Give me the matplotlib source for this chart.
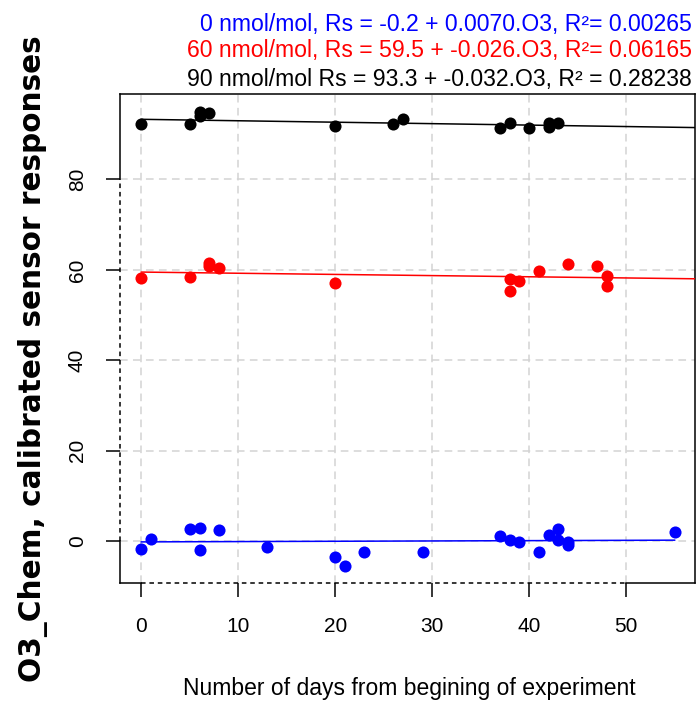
import matplotlib
matplotlib.use("Agg")
import matplotlib.pyplot as plt
import matplotlib.transforms as mtransforms

# -- Calibrated sensor responses per O3 level --------------------------------
days_0 = [0, 1, 5, 6, 6, 8, 13, 20, 21, 23, 29, 37, 38, 39, 41, 42, 43, 43, 44, 44, 55]
resp_0 = [-1.8, 0.4, 2.6, 2.9, -2.1, 2.4, -1.4, -3.5, -5.5, -2.4, -2.4,
          1.1, 0.2, -0.2, -2.4, 1.3, 2.7, 0.2, -0.2, -0.9, 1.9]

days_60 = [0, 5, 7, 7, 8, 20, 38, 38, 39, 41, 44, 47, 48, 48]
resp_60 = [58.1, 58.5, 61.4, 60.8, 60.5, 57.1, 57.9, 55.4, 57.5, 59.8, 61.3, 60.8, 58.6, 56.4]

days_90 = [0, 5, 6, 6, 7, 20, 26, 27, 37, 38, 40, 42, 42, 43]
resp_90 = [92.2, 92.2, 95.0, 94.0, 94.6, 91.9, 92.2, 93.3, 91.4, 92.5, 91.4, 91.6, 92.4, 92.5]

# linear fits Rs = a + b * day
fit_a = [-0.2, 59.5, 93.3]
fit_b = [0.0070, -0.026, -0.032]
fit_r2 = ["0.00265", "0.06165", "0.28238"]

xticks = [0, 10, 20, 30, 40, 50]
yticks = [0, 20, 40, 60, 80]
xlim = (-2.2, 57.1)
ylim = (-9.36, 98.9)

plt.rcParams["font.family"] = ["Liberation Sans", "DejaVu Sans"]

fig = plt.figure(figsize=(6.98, 7.01), dpi=100)
ax = fig.add_axes([120 / 698, 1 - 583.3 / 701, 575 / 698, 489.3 / 701])
ax.set_xlim(*xlim)
ax.set_ylim(*ylim)

# grid (R-style light gray dashed)
for xv in xticks:
    ax.axvline(xv, color="#d3d3d3", lw=1.1, dashes=(5, 3.5), zorder=1)
for yv in yticks:
    ax.axhline(yv, color="#d3d3d3", lw=1.1, dashes=(5, 3.5), zorder=1)

series = [(days_0, resp_0, "blue", 55),
          (days_90, resp_90, "black", xlim[1]),
          (days_60, resp_60, "red", xlim[1])]
for (dx, ry, col, xend), i in zip(series, [0, 2, 1]):
    ax.plot(dx, ry, "o", color=col, ms=8.7, mew=0, zorder=3)
    ax.plot([0, xend], [fit_a[i] + fit_b[i] * 0, fit_a[i] + fit_b[i] * xend],
            color=col, lw=1.1, zorder=4)

# frame: left and bottom sides dashed over the tick range
for s in ("left", "bottom"):
    ax.spines[s].set_visible(False)
for s in ("top", "right"):
    ax.spines[s].set_linewidth(1.1)
ytr = mtransforms.blended_transform_factory(ax.transAxes, ax.transData)
xtr = mtransforms.blended_transform_factory(ax.transData, ax.transAxes)
kw = dict(color="black", lw=1.1, clip_on=False, zorder=5)
ax.plot([0, 0], [yticks[-1], ylim[1]], transform=ytr, **kw)
ax.plot([0, 0], [yticks[0], yticks[-1]], transform=ytr, dashes=(3, 2.5), **kw)
ax.plot([0, 0], [ylim[0], yticks[0]], transform=ytr, **kw)
ax.plot([xlim[0], xticks[0]], [0, 0], transform=xtr, **kw)
ax.plot([xticks[0], xticks[-1]], [0, 0], transform=xtr, dashes=(3, 2.5), **kw)
ax.plot([xticks[-1], xlim[1]], [0, 0], transform=xtr, **kw)

ax.set_xticks(xticks)
ax.set_yticks(yticks)
ax.tick_params(length=10, width=1.1, pad=14, labelsize=15)
ax.tick_params(axis="y", labelrotation=90)
for lbl in ax.get_yticklabels():
    lbl.set_verticalalignment("center")

# equations above the panel
eq_text = [
    f"0 nmol/mol, Rs = {fit_a[0]} + {fit_b[0]:.4f}.O3, R\u00b2= {fit_r2[0]}",
    f"60 nmol/mol, Rs = {fit_a[1]} + {fit_b[1]:.3f}.O3, R\u00b2= {fit_r2[1]}",
    f"90 nmol/mol Rs = {fit_a[2]} + {fit_b[2]:.3f}.O3, R\u00b2 = {fit_r2[2]}",
]
eq_col = ["blue", "red", "black"]
eq_y = [31, 57.5, 86]
for t, c, yb in zip(eq_text, eq_col, eq_y):
    fig.text(692 / 698, 1 - yb / 701, t, color=c, fontsize=16.6,
             ha="right", va="baseline")

fig.text(409 / 698, 1 - 688 / 701, "Number of days from begining of experiment",
         fontsize=16.5, ha="center", va="center")
fig.text(33 / 698, 1 - 359 / 701, "O3_Chem, calibrated sensor responses",
         family="DejaVu Sans", fontweight="bold", fontsize=21.3,
         rotation=90, ha="center", va="center")

fig.savefig("out.png", dpi=100)
